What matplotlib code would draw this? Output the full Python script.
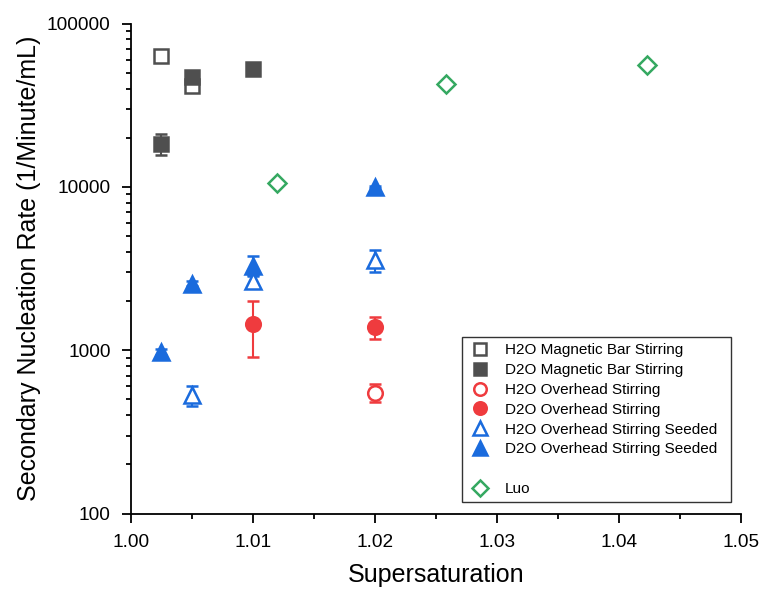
import matplotlib.pyplot as plt
from matplotlib.lines import Line2D

plt.rcParams['font.family'] = ['Liberation Sans', 'DejaVu Sans']

# H2O magnetic bar stirring (open squares)
h2o_mag_x = [1.0025, 1.005]
h2o_mag_y = [63000, 41500]
h2o_mag_err = [1500, 2000]

# D2O magnetic bar stirring (filled squares)
d2o_mag_x = [1.0025, 1.005, 1.01]
d2o_mag_y = [18300, 47000, 52500]
d2o_mag_err = [2700, 2500, 4000]

# H2O overhead stirring (open circles)
h2o_over_x = [1.02]
h2o_over_y = [550]
h2o_over_err = [70]

# D2O overhead stirring (filled circles)
d2o_over_x = [1.01, 1.02]
d2o_over_y = [1450, 1380]
d2o_over_err = [540, 210]

# H2O overhead stirring seeded (open triangles)
h2o_seed_x = [1.005, 1.01, 1.02]
h2o_seed_y = [530, 2650, 3550]
h2o_seed_err = [75, 250, 550]

# D2O overhead stirring seeded (filled triangles)
d2o_seed_x = [1.0025, 1.005, 1.01, 1.02]
d2o_seed_y = [980, 2560, 3300, 10000]
d2o_seed_err = [40, 80, 450, 150]

# Luo
luo_x = [1.012, 1.0258, 1.0423]
luo_y = [10600, 42500, 55600]

gray = '#4f4f4f'
red = '#EF3B3E'
blue = '#1A6BDD'
green = '#35A861'

fig, ax = plt.subplots(figsize=(7.6, 5.89), dpi=100)
fig.subplots_adjust(left=0.172, right=0.975, top=0.960, bottom=0.128)

mew = 1.8
eb = dict(linestyle='none', capsize=4.5, elinewidth=1.5, capthick=1.5, markeredgewidth=mew)

ax.errorbar(h2o_mag_x, h2o_mag_y, yerr=h2o_mag_err, marker='s', markersize=9.5, color=gray, mfc='white', mec=gray, **eb)
ax.errorbar(d2o_mag_x, d2o_mag_y, yerr=d2o_mag_err, marker='s', markersize=9.5, color=gray, mfc=gray, mec=gray, **eb)
ax.errorbar(h2o_over_x, h2o_over_y, yerr=h2o_over_err, marker='o', markersize=10.5, color=red, mfc='white', mec=red, **eb)
ax.errorbar(d2o_over_x, d2o_over_y, yerr=d2o_over_err, marker='o', markersize=10.5, color=red, mfc=red, mec=red, **eb)
ax.errorbar(h2o_seed_x, h2o_seed_y, yerr=h2o_seed_err, marker='^', markersize=11.5, color=blue, mfc='white', mec=blue, **eb)
ax.errorbar(d2o_seed_x, d2o_seed_y, yerr=d2o_seed_err, marker='^', markersize=11.5, color=blue, mfc=blue, mec=blue, **eb)
ax.plot(luo_x, luo_y, linestyle='none', marker='D', markersize=9.5, mfc='white', mec=green, mew=mew)

ax.set_yscale('log')
ax.set_xlim(1.00, 1.05)
ax.set_ylim(100, 100000)
ax.set_xticks([1.00, 1.01, 1.02, 1.03, 1.04, 1.05])
ax.set_xticklabels(['1.00', '1.01', '1.02', '1.03', '1.04', '1.05'])
ax.set_xticks([1.005, 1.015, 1.025, 1.035, 1.045], minor=True)
ax.set_yticks([100, 1000, 10000, 100000])
ax.set_yticklabels(['100', '1000', '10000', '100000'])
ax.tick_params(which='major', direction='out', length=6.5, width=1.3, labelsize=13.7, pad=8, color='black')
ax.tick_params(which='minor', direction='out', length=3.5, width=1.3)
ax.spines['top'].set_visible(False)
ax.spines['right'].set_visible(False)
ax.spines['left'].set_linewidth(1.3)
ax.spines['bottom'].set_linewidth(1.3)

ax.set_xlabel('Supersaturation', fontsize=18, labelpad=9)
ax.set_ylabel('Secondary Nucleation Rate (1/Minute/mL)', fontsize=18, labelpad=4)

def h(marker, color, filled, size):
    return Line2D([], [], linestyle='none', marker=marker, markersize=size,
                  mfc=color if filled else 'white', mec=color, mew=mew)

handles = [h('s', gray, False, 8), h('s', gray, True, 8), h('o', red, False, 9), h('o', red, True, 9),
           h('^', blue, False, 10), h('^', blue, True, 10), Line2D([], [], linestyle='none'),
           h('D', green, False, 8)]
labels = ['H2O Magnetic Bar Stirring', 'D2O Magnetic Bar Stirring', 'H2O Overhead Stirring',
          'D2O Overhead Stirring', 'H2O Overhead Stirring Seeded', 'D2O Overhead Stirring Seeded',
          ' ', 'Luo']
leg = ax.legend(handles, labels, loc='lower left', bbox_to_anchor=(0.5426, 0.0235, 0.441, 0),
                mode='expand', borderaxespad=0, fontsize=11, frameon=True, fancybox=False,
                edgecolor='black', handletextpad=0.8, labelspacing=0.38, borderpad=0.4,
                handlelength=1.6)
leg.get_frame().set_linewidth(1.0)

fig.savefig('out.png', dpi=100)
